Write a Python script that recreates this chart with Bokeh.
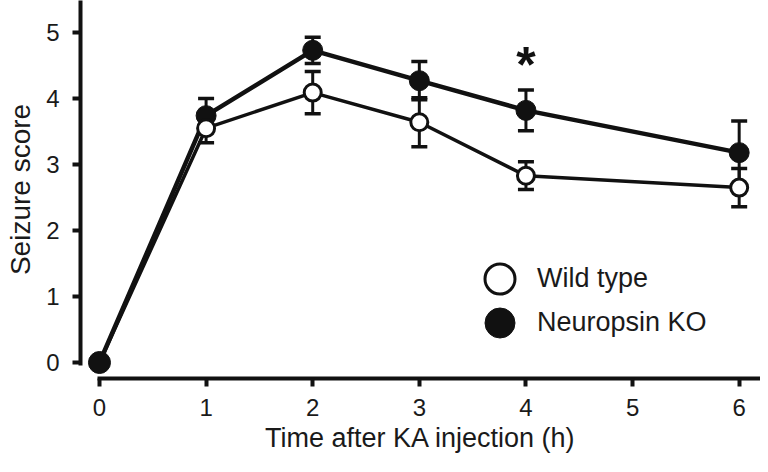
from bokeh.plotting import figure
from bokeh.models import (Range1d, Whisker, TeeHead, ColumnDataSource, Legend,
                          LegendItem, CDSView, BooleanFilter)
from bokeh.core.properties import value
from bokeh.embed import file_html
from bokeh.resources import INLINE

# ---- data ----
time_h = [0, 1, 2, 3, 4, 6]
wt_mean = [0.0, 3.55, 4.09, 3.64, 2.83, 2.65]
wt_sem = [0.0, 0.22, 0.32, 0.37, 0.21, 0.29]
ko_mean = [0.0, 3.74, 4.73, 4.27, 3.82, 3.18]
ko_sem = [0.0, 0.26, 0.20, 0.29, 0.31, 0.48]
x_ticks = [0, 1, 2, 3, 4, 5, 6]
y_ticks = [0, 1, 2, 3, 4, 5]
series_labels = ["Wild type", "Neuropsin KO"]
x_title = "Time after KA injection (h)"
y_title = "Seizure score"
sig_time = [4]
sig_mark = ["*"]

FONT = "Liberation Sans"

wt_src = ColumnDataSource(dict(
    x=time_h, y=wt_mean,
    upper=[m + s for m, s in zip(wt_mean, wt_sem)],
    lower=[m - s for m, s in zip(wt_mean, wt_sem)]))
ko_src = ColumnDataSource(dict(
    x=time_h, y=ko_mean,
    upper=[m + s for m, s in zip(ko_mean, ko_sem)],
    lower=[m - s for m, s in zip(ko_mean, ko_sem)]))

p = figure(width=760, height=464, output_backend="svg", toolbar_location=None,
           x_range=Range1d(-0.178, 6.20), y_range=Range1d(-0.2424, 5.485),
           min_border_left=80, min_border_right=0, min_border_top=0,
           min_border_bottom=86)
p.outline_line_color = None
p.grid.visible = False
p.background_fill_color = "white"
p.border_fill_color = "white"

for ax in (p.xaxis[0], p.yaxis[0]):
    ax.axis_line_width = 4
    ax.axis_line_color = "#111111"
    ax.major_tick_line_width = 4
    ax.major_tick_line_color = "#111111"
    ax.major_tick_out = 8
    ax.major_tick_in = 0
    ax.minor_tick_line_color = None
    ax.major_label_text_font = FONT
    ax.major_label_text_font_size = "24px"
    ax.major_label_text_color = "#1a1a1a"
    ax.axis_label_text_font = FONT
    ax.axis_label_text_font_size = "27px"
    ax.axis_label_text_font_style = "normal"
    ax.axis_label_text_color = "#1a1a1a"

p.xaxis.ticker = x_ticks
p.yaxis.ticker = y_ticks
p.xaxis.bounds = (-0.02, 6.3)
p.yaxis.bounds = (-0.05, 5.6)
p.xaxis.major_label_standoff = 12
p.yaxis.major_label_standoff = 13
p.xaxis.axis_label = x_title
p.yaxis.axis_label = y_title
p.yaxis.axis_label_text_font_size = "28px"
p.xaxis.axis_label_standoff = 4
p.yaxis.axis_label_standoff = 7

# error bars
for src in (wt_src, ko_src):
    p.add_layout(Whisker(source=src, base="x", upper="upper", lower="lower",
                         line_width=3, line_color="#111111",
                         upper_head=TeeHead(size=16, line_width=3.5, line_color="#111111"),
                         lower_head=TeeHead(size=16, line_width=3.5, line_color="#111111")))

# lines
p.line("x", "y", source=wt_src, line_width=3.5, line_color="#111111")
p.line("x", "y", source=ko_src, line_width=4.5, line_color="#111111")

# markers
ko_r = p.scatter("x", "y", source=ko_src, size=20, fill_color="#111111",
                 line_color="#111111", line_width=1)
wt_r = p.scatter("x", "y", source=wt_src, size=17, fill_color="white",
                 line_color="#111111", line_width=3)
same = BooleanFilter([w == k for w, k in zip(wt_mean, ko_mean)])
p.scatter("x", "y", source=ko_src, view=CDSView(filter=same), size=22,
          fill_color="#111111", line_color="#111111", line_width=1)

# significance mark
sig_y = [ko_mean[time_h.index(t)] + ko_sem[time_h.index(t)] for t in sig_time]
p.text(x=sig_time, y=sig_y, text=sig_mark, text_font=value(FONT),
       text_font_size="50px", text_font_style="bold", text_align="center",
       text_baseline="alphabetic", y_offset=-25, text_color="#111111")

# legend: one Legend per entry so rows can sit closer than the glyph box
leg_common = dict(glyph_width=75, glyph_height=75, label_standoff=0,
                  padding=0, margin=0, border_line_color=None,
                  background_fill_alpha=0, label_text_font=FONT,
                  label_text_font_size="27px", label_text_color="#1a1a1a")
p.add_layout(Legend(items=[LegendItem(label=series_labels[0], renderers=[wt_r])],
                    location=(382, 62), **leg_common))
p.add_layout(Legend(items=[LegendItem(label=series_labels[1], renderers=[ko_r])],
                    location=(382, 18), **leg_common))

open("out.html", "w").write(file_html(p, INLINE))
